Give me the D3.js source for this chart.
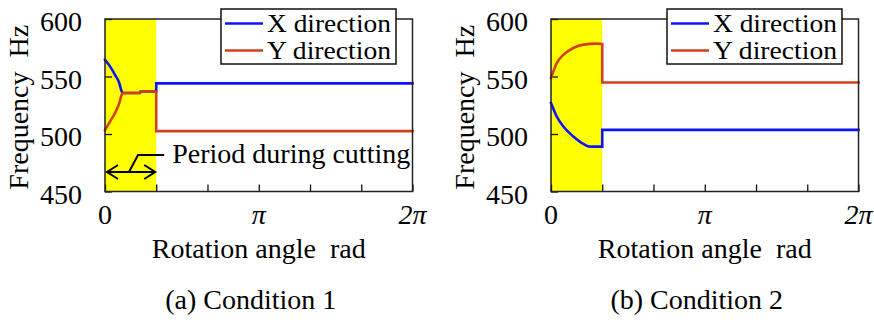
<!DOCTYPE html>
<html>
<head>
<meta charset="utf-8">
<script src="https://cdn.jsdelivr.net/npm/d3@7"></script>
<style>
  body { margin: 0; background: #fff; }
  svg text { font-family: "Liberation Serif", "Times New Roman", serif; fill: #000; }
</style>
</head>
<body>
<svg id="chart" width="874" height="332"></svg>
<script>
// values: [angle rad, frequency Hz]
const cond1X = [[0, 564.6], [0.102, 558.8], [0.204, 551.5], [0.292, 544.3], [0.341, 537.0], [0.362, 535.6],
  [0.715, 535.6], [0.72, 537.0], [1.047, 537.0], [1.047, 544.0], [6.283, 544.0]];
const cond1Y = [[0, 503.4], [0.102, 510.8], [0.204, 518.2], [0.292, 526.9], [0.341, 534.1], [0.362, 535.6],
  [0.715, 535.6], [0.72, 537.0], [1.047, 537.0], [1.047, 502.5], [6.283, 502.5]];
const cond2X = [[0, 526.9], [0.117, 515.2], [0.252, 506.5], [0.456, 497.8], [0.661, 491.4], [0.798, 489.0],
  [1.047, 489.0], [1.047, 503.6], [6.283, 503.6]];
const cond2Y = [[0, 548.7], [0.117, 561.7], [0.252, 568.8], [0.456, 574.8], [0.661, 577.7], [0.935, 578.6],
  [1.047, 578.3], [1.047, 544.8], [6.283, 544.8]];

const cuttingPeriod = [0, 1.047];
const yTicks = [450, 500, 550, 600];
const xTicks = [0, 1.047, 2.094, 3.1416, 4.189, 5.236, 6.283];
const xLabels = [{ v: 0, t: "0" }, { v: 3.1416, t: "π" }, { v: 6.283, t: "2π" }];
const seriesNames = ["X direction", "Y direction"];
const colors = ["#0a14ff", "#d2401a"];
const captions = ["(a) Condition 1", "(b) Condition 2"];

const svg = d3.select("svg#chart");
const panelW = 307.5;
const panelH = 172.5;
const panelOffsets = [105, 551];
const plotTop = 19;

// split a series where the angle stops increasing, so arcs can be smoothed
function runs(pts) {
  const out = [];
  let cur = [pts[0]];
  for (let i = 1; i < pts.length; i++) {
    if (pts[i][0] > pts[i - 1][0]) cur.push(pts[i]);
    else {
      out.push({ pts: cur, smooth: true });
      out.push({ pts: [pts[i - 1], pts[i]], smooth: false });
      cur = [pts[i]];
    }
  }
  out.push({ pts: cur, smooth: true });
  return out;
}

function drawPanel(left, series, caption, annotate) {
  const g = svg.append("g").attr("transform", `translate(${left},${plotTop})`);
  const x = d3.scaleLinear().domain([0, 6.283]).range([0, panelW]);
  const y = d3.scaleLinear().domain([450, 600]).range([panelH, 0]);

  // cutting period shading
  g.append("rect")
    .attr("x", x(cuttingPeriod[0]))
    .attr("y", 0)
    .attr("width", x(cuttingPeriod[1]) - x(cuttingPeriod[0]))
    .attr("height", panelH)
    .attr("fill", "#ffff00");

  // ticks inside the frame
  const yAxis = d3.axisLeft(y).tickValues(yTicks).tickSize(-7).tickPadding(23);
  const ya = g.append("g").call(yAxis);
  ya.select(".domain").remove();
  ya.selectAll("line").attr("stroke", "#111").attr("stroke-width", 1.3);
  ya.selectAll("text")
    .style("font-size", "28px")
    .style("font-family", "Liberation Serif")
    .attr("dy", "0.42em");

  const xAxis = d3.axisBottom(x).tickValues(xTicks).tickSize(-7).tickFormat("");
  const xa = g.append("g").attr("transform", `translate(0,${panelH})`).call(xAxis);
  xa.select(".domain").remove();
  xa.selectAll("line").attr("stroke", "#111").attr("stroke-width", 1.3);

  g.selectAll("text.xlab")
    .data(xLabels)
    .join("text")
    .attr("class", "xlab")
    .attr("x", (d) => x(d.v))
    .attr("y", panelH + 32)
    .attr("text-anchor", "middle")
    .style("font-size", "28px")
    .style("font-style", (d) => (d.t === "0" ? "normal" : "italic"))
    .text((d) => d.t);

  // lines
  const smoothLine = d3.line().x((d) => x(d[0])).y((d) => y(d[1])).curve(d3.curveMonotoneX);
  const straightLine = d3.line().x((d) => x(d[0])).y((d) => y(d[1]));
  series.forEach((s, i) => {
    const path = runs(s).map((r) => (r.smooth ? smoothLine(r.pts) : straightLine(r.pts))).join("");
    g.append("path")
      .attr("d", path)
      .attr("fill", "none")
      .attr("stroke", colors[i])
      .attr("stroke-width", 2.6)
      .attr("stroke-linecap", "square");
  });

  // frame
  g.append("rect")
    .attr("width", panelW)
    .attr("height", panelH)
    .attr("fill", "none")
    .attr("stroke", "#222")
    .attr("stroke-width", 1.5);

  // legend
  const lg = g.append("g").attr("transform", "translate(116,-10)");
  lg.append("rect")
    .attr("width", 175)
    .attr("height", 55)
    .attr("fill", "#fff")
    .attr("stroke", "#111")
    .attr("stroke-width", 1.5);
  seriesNames.forEach((name, i) => {
    lg.append("line")
      .attr("x1", 4).attr("x2", 42)
      .attr("y1", 14.5 + i * 27).attr("y2", 14.5 + i * 27)
      .attr("stroke", colors[i])
      .attr("stroke-width", 2.6);
    lg.append("text")
      .attr("x", 46)
      .attr("y", 23 + i * 27)
      .style("font-size", "25px")
      .attr("textLength", 124)
      .attr("lengthAdjust", "spacingAndGlyphs")
      .text(name);
  });

  // axis titles and caption
  g.append("text")
    .attr("transform", `translate(${-77},${panelH / 2 + 2}) rotate(-90)`)
    .attr("text-anchor", "middle")
    .style("font-size", "28px")
    .attr("xml:space", "preserve")
    .text("Frequency  Hz");
  g.append("text")
    .attr("x", panelW / 2)
    .attr("y", panelH + 66)
    .attr("text-anchor", "middle")
    .attr("xml:space", "preserve")
    .style("font-size", "28px")
    .text("Rotation angle  rad");
  g.append("text")
    .attr("x", panelW / 2 - 8)
    .attr("y", panelH + 117)
    .attr("text-anchor", "middle")
    .style("font-size", "28px")
    .text(caption);

  if (annotate) {
    const xs = x(cuttingPeriod[0]) + 2;
    const xe = x(cuttingPeriod[1]) - 1;
    const ay = 153;
    g.append("path")
      .attr("d", `M${xs},${ay}H${xe}M${xs + 11},${ay - 7}L${xs},${ay}L${xs + 11},${ay + 7}M${xe - 11},${ay - 7}L${xe},${ay}L${xe - 11},${ay + 7}`)
      .attr("fill", "none")
      .attr("stroke", "#000")
      .attr("stroke-width", 2);
    g.append("path")
      .attr("d", `M${xs + 22},${ay}L${xs + 31},${ay - 17}H${xe + 9}`)
      .attr("fill", "none")
      .attr("stroke", "#000")
      .attr("stroke-width", 2);
    g.append("text")
      .attr("x", xe + 17)
      .attr("y", 144)
      .style("font-size", "28px")
      .text("Period during cutting");
  }
}

drawPanel(panelOffsets[0], [cond1X, cond1Y], captions[0], true);
drawPanel(panelOffsets[1], [cond2X, cond2Y], captions[1], false);
</script>
</body>
</html>
